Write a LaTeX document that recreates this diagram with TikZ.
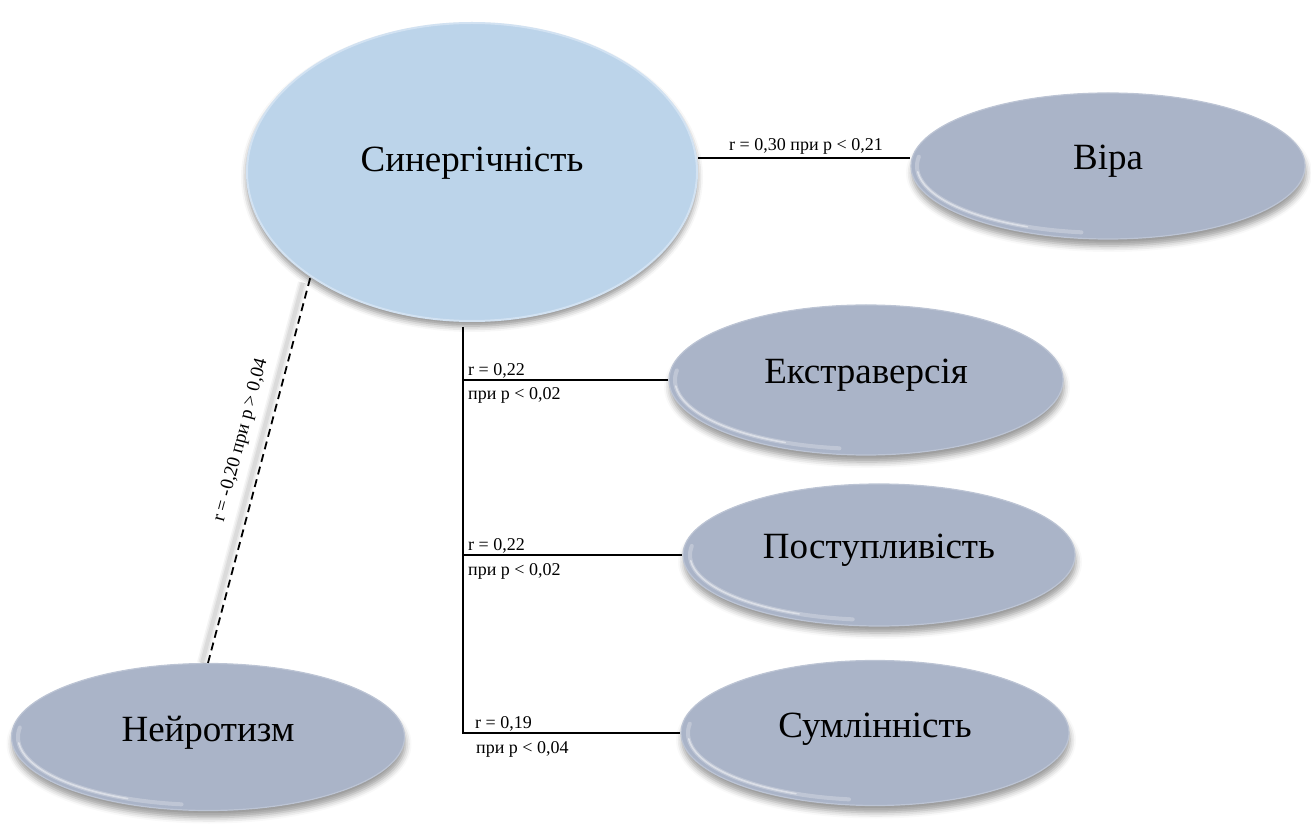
\documentclass[tikz,border=0pt]{standalone}
\usepackage{fontspec}
\setmainfont{Liberation Serif}
\usetikzlibrary{shapes.geometric,shadows.blur}

\definecolor{bubfill}{HTML}{AAB4C8}
\definecolor{bubedge}{HTML}{BCC4D4}
\definecolor{synfill}{HTML}{BCD4EA}
\definecolor{synedge}{HTML}{D2E2F2}

\tikzset{
  bubble/.style={ellipse, inner sep=0pt, fill=bubfill, draw=bubedge, line width=1.2pt,
    font=\fontsize{37}{40}\selectfont, text height=18pt, text depth=10pt,
    blur shadow={shadow xshift=1pt, shadow yshift=-7pt, shadow blur radius=6pt, shadow opacity=40}},
  synbubble/.style={bubble, fill=synfill, draw=synedge, line width=2pt,
    text height=14pt, text depth=14pt,
    blur shadow={shadow xshift=0pt, shadow yshift=-5pt, shadow blur radius=6pt, shadow opacity=25}},
  conn/.style={line width=1.2pt, black},
  dashline/.style={line width=1.8pt, black, dash pattern=on 8pt off 5pt},
  lab/.style={font=\fontsize{18}{20}\selectfont, inner sep=0pt},
  rimwide/.style={white, opacity=.25, line width=4pt, line cap=round},
  rimthin/.style={white, opacity=.45, line width=1.6pt, line cap=round}
}

% soft highlight along the lower-left inside edge of a bubble
\newcommand\rimlight[3]{%
  \draw[rimwide] ([shift={(172:#2pt and #3pt)}]#1.center)
    arc[start angle=172, end angle=262, x radius=#2pt, y radius=#3pt];
  \draw[rimthin] ([shift={(185:#2pt and #3pt)}]#1.center)
    arc[start angle=185, end angle=245, x radius=#2pt, y radius=#3pt];}

\begin{document}
\begin{tikzpicture}[x=1pt,y=1pt]
\useasboundingbox (0,0) rectangle (1311,825);

% bubbles
\node[synbubble, minimum width=450pt, minimum height=298pt] (syn) at (472,653) {Синергічність};
\node[bubble, minimum width=394pt, minimum height=146pt] (vira) at (1108,659) {Віра};
\node[bubble, minimum width=394pt, minimum height=150pt] (ext) at (866,445) {Екстраверсія};
\node[bubble, minimum width=392pt, minimum height=142pt] (post) at (879,270) {Поступливість};
\node[bubble, minimum width=388pt, minimum height=145pt] (sum) at (875,92) {Сумлінність};
\node[bubble, minimum width=393pt, minimum height=147pt] (neu) at (208,88) {Нейротизм};

\rimlight{vira}{191}{67}
\rimlight{ext}{191}{69}
\rimlight{post}{189}{65}
\rimlight{sum}{187}{67}
\rimlight{neu}{190}{68}

% connectors
\coordinate (trunk) at (463,498);
\draw[conn] (trunk) |- (ext.west);
\draw[conn] (trunk) |- (post.west);
\draw[conn] (trunk) |- (sum.west);

\coordinate (va) at ([yshift=8pt]vira.west);
\draw[conn] (syn.east |- va) -- (va);

% soft shadow beside the dashed connector
\foreach \w/\o in {10/.04,7/.05,4/.06}
  \draw[line width=\w pt, black, opacity=\o, transform canvas={xshift=-6pt}, shorten >=6pt]
    (neu.north) -- (syn.213.7);
\draw[dashline] (neu.north) -- (syn.213.7)
  node[lab, font=\fontsize{19}{21}\selectfont, sloped, above=16pt, pos=0.56] (nlab) {r = -0,20 при p > 0,04};

% correlation labels
\node[lab, anchor=base] (vlab) at (806,674) {r = 0,30 при p < 0,21};
\node[lab, anchor=base west] (e1) at (468,449) {r = 0,22};
\node[lab, anchor=base west] (e2) at (468,425) {при p < 0,02};
\node[lab, anchor=base west] (p1) at (468,274) {r = 0,22};
\node[lab, anchor=base west] (p2) at (468,250) {при p < 0,02};
\node[lab, anchor=base west] (s1) at (475,97) {r = 0,19};
\node[lab, anchor=base west] (s2) at (476,72) {при p < 0,04};
\end{tikzpicture}
\end{document}
